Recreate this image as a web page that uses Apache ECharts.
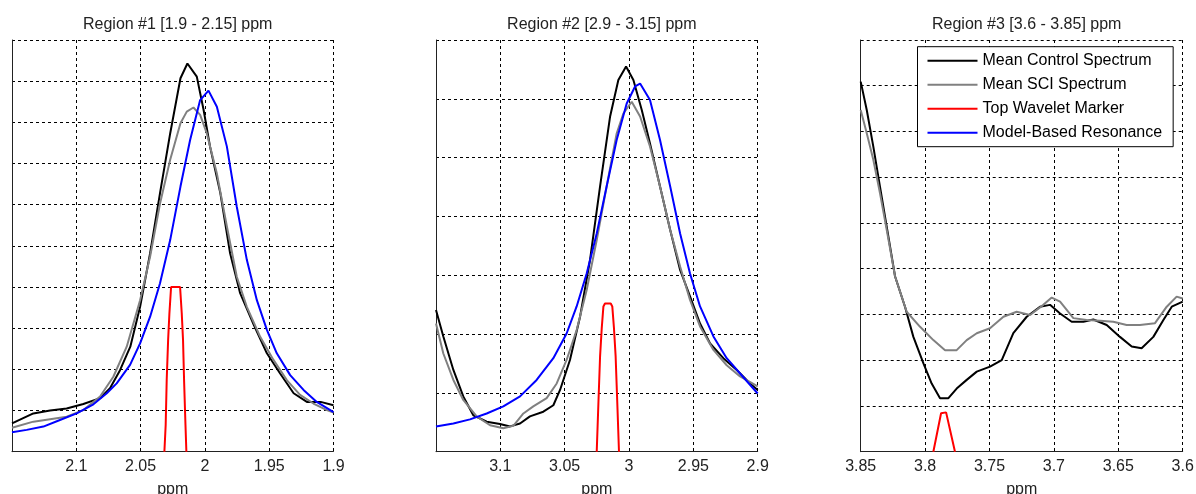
<!DOCTYPE html>
<html>
<head>
<meta charset="utf-8">
<title>Regions</title>
<script src="https://cdn.jsdelivr.net/npm/echarts@6/dist/echarts.min.js"></script>
<style>
  html, body { margin: 0; padding: 0; background: #fff; }
  #chart { width: 1196px; height: 494px; }
</style>
</head>
<body>
<div id="chart"></div>
<script>
// region ranges and x tick labels (ppm, axis reversed)
const range1 = [1.9, 2.15];
const range2 = [2.9, 3.15];
const range3 = [3.6, 3.85];
const ticks1 = [2.1, 2.05, 2, 1.95, 1.9];
const ticks2 = [3.1, 3.05, 3, 2.95, 2.9];
const ticks3 = [3.85, 3.8, 3.75, 3.7, 3.65, 3.6];
// y limits in grid units (no labels shown)
const yMax = [10, 7, 9];

const names = ['Mean Control Spectrum', 'Mean SCI Spectrum', 'Top Wavelet Marker', 'Model-Based Resonance'];

// Region #1
const ctrl1 = [[2.15,0.69],[2.1334,0.93],[2.1204,1.0],[2.1075,1.05],[2.0945,1.16],[2.0815,1.30],[2.0738,1.54],[2.066,1.98],[2.058,2.55],[2.0504,3.52],[2.0426,4.82],[2.0349,6.28],[2.027,7.73],[2.019,9.07],[2.0136,9.43],[2.0063,9.11],[2.001,8.30],[1.996,7.41],[1.988,6.28],[1.9804,4.82],[1.9726,3.85],[1.962,3.08],[1.9518,2.39],[1.9415,1.90],[1.931,1.42],[1.9207,1.21],[1.910,1.21],[1.9,1.13]];
const sci1 = [[2.15,0.58],[2.1334,0.73],[2.1204,0.79],[2.1075,0.85],[2.0945,1.01],[2.0815,1.34],[2.0712,1.82],[2.0608,2.55],[2.0504,3.68],[2.0426,4.74],[2.0349,6.03],[2.027,7.09],[2.019,7.98],[2.0141,8.26],[2.0089,8.36],[2.0037,8.18],[1.9985,7.73],[1.9907,6.76],[1.9829,5.47],[1.9752,4.25],[1.9674,3.52],[1.957,2.79],[1.9467,2.23],[1.9363,1.74],[1.926,1.38],[1.9156,1.17],[1.9052,1.01],[1.9,0.95]];
const wave1 = [[2.0315,0],[2.0305,0.65],[2.0297,1.74],[2.0286,2.71],[2.0276,3.36],[2.0263,4.0],[2.0193,4.0],[2.018,3.36],[2.017,2.71],[2.0162,1.74],[2.0151,0.65],[2.0144,0]];
const model1 = [[2.15,0.47],[2.1386,0.53],[2.1256,0.61],[2.1127,0.77],[2.0997,0.93],[2.0867,1.15],[2.0763,1.42],[2.0686,1.66],[2.0582,2.11],[2.0504,2.63],[2.0426,3.28],[2.0349,4.09],[2.027,5.14],[2.019,6.44],[2.0115,7.57],[2.0037,8.54],[1.9972,8.77],[1.9907,8.38],[1.9829,7.41],[1.9752,5.95],[1.9674,4.66],[1.9596,3.68],[1.9518,2.96],[1.9441,2.39],[1.9337,1.86],[1.9233,1.50],[1.913,1.21],[1.9,0.96]];

// Region #2
const ctrl2 = [[3.15,2.41],[3.1443,1.96],[3.1365,1.39],[3.1288,0.94],[3.121,0.62],[3.1106,0.51],[3.1003,0.47],[3.0925,0.43],[3.0847,0.48],[3.077,0.60],[3.0666,0.68],[3.0588,0.79],[3.0536,1.05],[3.0459,1.56],[3.038,2.30],[3.0303,3.26],[3.0225,4.51],[3.0147,5.70],[3.0083,6.32],[3.0023,6.55],[2.9966,6.32],[2.9901,5.81],[2.9837,5.24],[2.9759,4.51],[2.968,3.77],[2.9603,3.09],[2.9526,2.64],[2.9448,2.18],[2.937,1.84],[2.9267,1.59],[2.9163,1.39],[2.906,1.16],[2.9,1.05]];
const sci2 = [[3.15,2.18],[3.1443,1.67],[3.1365,1.22],[3.1288,0.88],[3.1184,0.60],[3.108,0.45],[3.0977,0.40],[3.0899,0.44],[3.0821,0.65],[3.0744,0.77],[3.064,0.91],[3.0562,1.16],[3.0485,1.56],[3.0407,2.07],[3.0329,2.75],[3.0251,3.60],[3.0174,4.51],[3.0096,5.41],[3.0044,5.75],[2.9979,5.95],[2.9914,5.70],[2.9837,5.19],[2.9759,4.51],[2.968,3.77],[2.9603,3.15],[2.9526,2.58],[2.9448,2.13],[2.9344,1.73],[2.9241,1.47],[2.9137,1.28],[2.9,1.11]];
const wave2 = [[3.0251,0],[3.0238,0.82],[3.0225,1.62],[3.0212,2.10],[3.0199,2.47],[3.0187,2.52],[3.0142,2.52],[3.013,2.47],[3.0117,2.10],[3.0104,1.62],[3.0091,0.82],[3.0078,0]];
const model2 = [[3.15,0.43],[3.1365,0.48],[3.1236,0.55],[3.1106,0.65],[3.0977,0.77],[3.0847,0.94],[3.0718,1.22],[3.0588,1.59],[3.0485,2.01],[3.0407,2.47],[3.0329,3.03],[3.0251,3.71],[3.0174,4.51],[3.0096,5.30],[3.0018,5.92],[2.9953,6.21],[2.9914,6.26],[2.9837,5.98],[2.9759,5.30],[2.968,4.51],[2.9603,3.71],[2.9526,3.03],[2.9448,2.47],[2.9344,1.96],[2.9241,1.59],[2.9137,1.33],[2.9,0.99]];

// Region #3
const ctrl3 = [[3.85,8.09],[3.8453,7.47],[3.8402,6.67],[3.835,5.79],[3.8298,4.92],[3.8233,3.83],[3.8156,3.17],[3.8091,2.51],[3.8013,1.93],[3.7949,1.49],[3.7884,1.17],[3.7819,1.17],[3.7755,1.38],[3.7677,1.57],[3.7599,1.75],[3.7496,1.86],[3.7405,2.00],[3.7315,2.59],[3.7211,2.95],[3.7108,3.17],[3.703,3.21],[3.6952,3.02],[3.6862,2.84],[3.6771,2.84],[3.6694,2.89],[3.659,2.77],[3.6487,2.51],[3.6396,2.30],[3.6319,2.26],[3.6228,2.51],[3.615,2.88],[3.6085,3.17],[3.6,3.28]];
const sci3 = [[3.85,7.47],[3.8453,6.96],[3.8402,6.38],[3.835,5.65],[3.8298,4.85],[3.8233,3.83],[3.8143,3.06],[3.8039,2.73],[3.7936,2.44],[3.7845,2.22],[3.7755,2.22],[3.7677,2.44],[3.7599,2.59],[3.7496,2.70],[3.7392,2.95],[3.7289,3.06],[3.7185,2.99],[3.7082,3.21],[3.7017,3.37],[3.6952,3.28],[3.6849,2.92],[3.6746,2.88],[3.6642,2.86],[3.6539,2.84],[3.6435,2.77],[3.6332,2.77],[3.6215,2.81],[3.6124,3.17],[3.6047,3.39],[3.6,3.35]];
const wave3 = [[3.7936,0],[3.7876,0.84],[3.7863,0.86],[3.7837,0.86],[3.7824,0.84],[3.7768,0]];

const FONT = "'Liberation Sans', Arial, sans-serif";
const colors = ['#000000', '#808080', '#ff0000', '#0000ff'];

const grids = [
    { left: 12, top: 40, width: 321.5, height: 411.7 },
    { left: 436, top: 40, width: 321.7, height: 411.7 },
    { left: 860.7, top: 40, width: 322, height: 411.7 }
];

function makeXAxis(i, range, ticks) {
    return {
        type: 'value',
        gridIndex: i,
        inverse: true,
        min: range[0],
        max: range[1],
        interval: 0.05,
        name: 'ppm',
        nameLocation: 'middle',
        nameGap: 30,
        nameTextStyle: { fontFamily: FONT, fontSize: 16, color: '#222' },
        axisLine: { show: true, onZero: false, lineStyle: { color: '#222', width: 1 } },
        axisTick: { show: false },
        axisLabel: {
            fontFamily: FONT,
            fontSize: 16,
            color: '#222',
            margin: 7,
            showMinLabel: true,
            showMaxLabel: true,
            formatter: function (v) {
                const hit = ticks.find(t => Math.abs(t - v) < 1e-6);
                return hit === undefined ? '' : String(hit);
            }
        },
        splitLine: { show: true, lineStyle: { color: '#000', type: [3, 3], width: 1 } }
    };
}

function makeYAxis(i, max) {
    return {
        type: 'value',
        gridIndex: i,
        min: 0,
        max: max,
        interval: 1,
        axisLine: { show: true, lineStyle: { color: '#222', width: 1 } },
        axisTick: { show: false },
        axisLabel: { show: false },
        splitLine: { show: true, lineStyle: { color: '#000', type: [3, 3], width: 1 } }
    };
}

function line(name, idx, data, color) {
    return {
        name: name,
        type: 'line',
        xAxisIndex: idx,
        yAxisIndex: idx,
        data: data,
        showSymbol: false,
        symbol: 'none',
        clip: true,
        animation: false,
        lineStyle: { color: color, width: 2 },
        itemStyle: { color: color }
    };
}

const chart = echarts.init(document.getElementById('chart'), null, { renderer: 'canvas' });

const option = {
    backgroundColor: '#fff',
    animation: false,
    title: [
        { text: 'Region #1 [1.9 - 2.15] ppm', left: 172.7, top: 12, textAlign: 'center' },
        { text: 'Region #2 [2.9 - 3.15] ppm', left: 596.8, top: 12, textAlign: 'center' },
        { text: 'Region #3 [3.6 - 3.85] ppm', left: 1021.7, top: 12, textAlign: 'center' }
    ].map(t => Object.assign(t, {
        textStyle: { fontFamily: FONT, fontSize: 16, fontWeight: 'normal', color: '#222' }
    })),
    legend: {
        data: names,
        orient: 'vertical',
        left: 917.5,
        top: 46.7,
        icon: 'rect',
        itemWidth: 50,
        itemHeight: 2,
        itemGap: 8,
        padding: [6, 11, 6, 10],
        backgroundColor: '#fff',
        borderColor: '#000',
        borderWidth: 1,
        selectedMode: false,
        textStyle: { fontFamily: FONT, fontSize: 16, color: '#000' }
    },
    grid: grids.map(g => Object.assign({ outerBoundsMode: 'none', containLabel: false }, g)),
    xAxis: [makeXAxis(0, range1, ticks1), makeXAxis(1, range2, ticks2), makeXAxis(2, range3, ticks3)],
    yAxis: [makeYAxis(0, yMax[0]), makeYAxis(1, yMax[1]), makeYAxis(2, yMax[2])],
    series: [
        line(names[0], 0, ctrl1, colors[0]),
        line(names[1], 0, sci1, colors[1]),
        line(names[2], 0, wave1, colors[2]),
        line(names[3], 0, model1, colors[3]),
        line(names[0], 1, ctrl2, colors[0]),
        line(names[1], 1, sci2, colors[1]),
        line(names[2], 1, wave2, colors[2]),
        line(names[3], 1, model2, colors[3]),
        line(names[0], 2, ctrl3, colors[0]),
        line(names[1], 2, sci3, colors[1]),
        line(names[2], 2, wave3, colors[2])
    ]
};

chart.setOption(option);

window.addEventListener('resize', function () {
    chart.resize();
});
</script>
</body>
</html>
